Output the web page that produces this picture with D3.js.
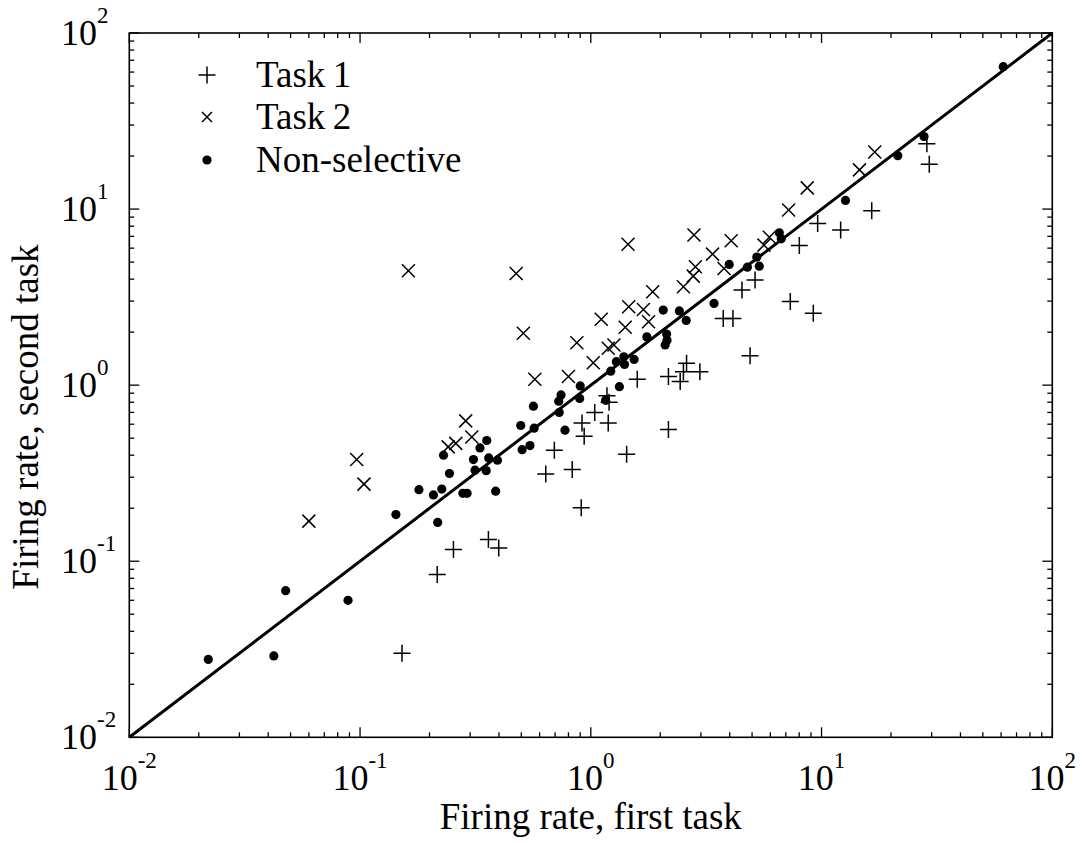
<!DOCTYPE html>
<html>
<head>
<meta charset="utf-8">
<script src="https://cdn.jsdelivr.net/npm/d3@7"></script>
<style>
  html, body { margin: 0; padding: 0; background: #fff; }
  svg { display: block; }
</style>
</head>
<body>
<svg id="chart" width="1087" height="843"></svg>
<script>
// Task 1 selective neurons (+): [first task, second task]
const task1X = [28.6, 29.3, 16.5, 12.1, 9.62, 8.01, 5.15, 4.52, 7.32, 9.21, 3.75, 4.13, 4.90, 2.60, 2.52, 2.97, 2.17, 2.44, 2.17, 1.59, 1.175, 1.20, 1.04, 1.19, 0.916, 0.936, 0.695, 1.43, 0.638, 0.831, 0.909, 0.36, 0.399, 0.254, 0.216, 0.152];
const task1Y = [23.5, 18.0, 9.77, 7.60, 8.29, 6.22, 3.95, 3.47, 2.99, 2.56, 2.39, 2.39, 1.47, 1.33, 1.19, 1.19, 1.12, 1.05, 0.56, 1.08, 0.87, 0.80, 0.70, 0.61, 0.61, 0.513, 0.427, 0.405, 0.313, 0.332, 0.201, 0.133, 0.119, 0.1165, 0.084, 0.030];

// Task 2 selective neurons (x)
const task2X = [0.162, 0.475, 0.51, 0.572, 0.80, 0.87, 1.025, 1.11, 1.19, 1.26, 1.45, 1.41, 1.46, 1.69, 1.78, 1.855, 2.52, 2.80, 3.37, 2.84, 2.78, 0.287, 0.305, 0.26, 0.241, 0.0967, 0.104, 0.060, 5.94, 5.63, 4.06, 3.78, 7.20, 8.67, 14.6, 17.0];
const task2Y = [4.46, 4.31, 1.97, 1.08, 1.12, 1.74, 1.34, 2.37, 1.62, 1.69, 6.32, 2.13, 2.79, 2.69, 2.29, 3.39, 3.62, 7.12, 5.55, 4.70, 4.16, 0.627, 0.508, 0.467, 0.446, 0.378, 0.274, 0.169, 6.91, 6.24, 6.61, 4.60, 9.87, 13.2, 16.7, 21.1];

// Non-selective neurons (dots)
const nonselX = [61.3, 27.8, 21.4, 12.7, 6.56, 6.69, 5.24, 3.98, 4.77, 5.37, 3.42, 2.06, 2.42, 2.59, 1.75, 2.13, 2.14, 2.10, 1.54, 1.39, 1.29, 1.40, 1.22, 1.33, 0.90, 0.743, 0.726, 0.895, 1.16, 0.73, 0.564, 0.497, 0.568, 0.773, 0.504, 0.545, 0.354, 0.331, 0.31, 0.361, 0.394, 0.315, 0.352, 0.23, 0.244, 0.18, 0.226, 0.208, 0.279, 0.291, 0.387, 0.143, 0.217, 0.0476, 0.0887, 0.022, 0.0423];
const nonselY = [64.4, 25.8, 20.1, 11.2, 7.33, 6.78, 5.34, 4.85, 4.68, 4.74, 2.91, 2.67, 2.64, 2.33, 1.88, 1.95, 1.80, 1.69, 1.40, 1.45, 1.36, 1.31, 1.20, 0.98, 0.99, 0.88, 0.81, 0.84, 0.82, 0.70, 0.76, 0.59, 0.57, 0.555, 0.43, 0.454, 0.485, 0.44, 0.378, 0.386, 0.375, 0.329, 0.327, 0.40, 0.315, 0.255, 0.257, 0.238, 0.243, 0.243, 0.25, 0.184, 0.166, 0.068, 0.060, 0.0277, 0.029];

const axisDomain = [0.01, 100];
const tickExponents = [-2, -1, 0, 1, 2];
const legendLabels = ["Task\u20091", "Task\u20092", "Non-selective"];
const xTitle = "Firing rate, first task";
const yTitle = "Firing rate, second task";

const FONT = "'Liberation Serif', 'Times New Roman', serif";
const svg = d3.select("#chart");
const L = 129.3, R = 1052.3, T = 33, B = 737.3;
const x = d3.scaleLog().domain(axisDomain).range([L, R]);
const y = d3.scaleLog().domain(axisDomain).range([B, T]);

// minor + major ticks
const majors = tickExponents.map(e => Math.pow(10, e));
const minors = [];
for (let e = -2; e < 2; e++) for (let m = 2; m <= 9; m++) minors.push(m * Math.pow(10, e));

const tg = svg.append("g").attr("stroke", "#000").attr("stroke-width", 1.3);
function ticks(vals, len) {
  vals.forEach(v => {
    const px = x(v), py = y(v);
    tg.append("line").attr("x1", px).attr("x2", px).attr("y1", B).attr("y2", B - len);
    tg.append("line").attr("x1", px).attr("x2", px).attr("y1", T).attr("y2", T + len);
    tg.append("line").attr("y1", py).attr("y2", py).attr("x1", L).attr("x2", L + len);
    tg.append("line").attr("y1", py).attr("y2", py).attr("x1", R).attr("x2", R - len);
  });
}
ticks(minors, 5);
ticks(majors, 10);

// frame
svg.append("rect").attr("x", L).attr("y", T).attr("width", R - L).attr("height", B - T)
  .attr("fill", "none").attr("stroke", "#000").attr("stroke-width", 1.6);

// tick labels
tickExponents.forEach(e => {
  const v = Math.pow(10, e);
  const t = svg.append("text").attr("x", x(v)).attr("y", 790).attr("text-anchor", "middle")
    .attr("font-family", FONT).attr("font-size", 36);
  t.append("tspan").text("10");
  t.append("tspan").attr("dy", -22).attr("font-size", 23).text(String(e));
  const ty = svg.append("text").attr("x", 61).attr("y", y(v) + 12).attr("text-anchor", "start")
    .attr("font-family", FONT).attr("font-size", 36);
  ty.append("tspan").text("10");
  ty.append("tspan").attr("dy", -22).attr("font-size", 23).text(String(e));
});

// diagonal y = x
svg.append("line").attr("x1", x(axisDomain[0])).attr("y1", y(axisDomain[0]))
  .attr("x2", x(axisDomain[1])).attr("y2", y(axisDomain[1]))
  .attr("stroke", "#000").attr("stroke-width", 3);

const plusPath = "M-8.5,0H8.5M0,-8.5V8.5";
const crossPath = "M-6.5,-6.5L6.5,6.5M-6.5,6.5L6.5,-6.5";

svg.append("g").selectAll("path").data(d3.range(task1X.length)).join("path")
  .attr("d", plusPath).attr("transform", i => `translate(${x(task1X[i])},${y(task1Y[i])})`)
  .attr("stroke", "#000").attr("stroke-width", 1.5).attr("fill", "none");
svg.append("g").selectAll("path").data(d3.range(task2X.length)).join("path")
  .attr("d", crossPath).attr("transform", i => `translate(${x(task2X[i])},${y(task2Y[i])})`)
  .attr("stroke", "#000").attr("stroke-width", 1.5).attr("fill", "none");
svg.append("g").selectAll("circle").data(d3.range(nonselX.length)).join("circle")
  .attr("cx", i => x(nonselX[i])).attr("cy", i => y(nonselY[i])).attr("r", 4.6).attr("fill", "#000");

// legend
const legY = [75, 117, 160];
const lg = svg.append("g");
lg.append("path").attr("d", plusPath).attr("transform", `translate(207,${legY[0]})`).attr("stroke", "#000").attr("stroke-width", 1.5);
lg.append("path").attr("d", "M-5,-5L5,5M-5,5L5,-5").attr("transform", `translate(207,${legY[1]})`).attr("stroke", "#000").attr("stroke-width", 1.5);
lg.append("circle").attr("cx", 207).attr("cy", legY[2]).attr("r", 4.6).attr("fill", "#000");
legendLabels.forEach((s, i) => {
  lg.append("text").attr("x", 256).attr("y", legY[i] + 12)
    .attr("font-family", FONT).attr("font-size", 37).text(s);
});

// axis titles
svg.append("text").attr("x", (L + R) / 2).attr("y", 829).attr("text-anchor", "middle")
  .attr("font-family", FONT).attr("font-size", 37).text(xTitle);
svg.append("text").attr("transform", `translate(38,417) rotate(-90)`).attr("text-anchor", "middle")
  .attr("font-family", FONT).attr("font-size", 37).text(yTitle);
</script>
</body>
</html>
